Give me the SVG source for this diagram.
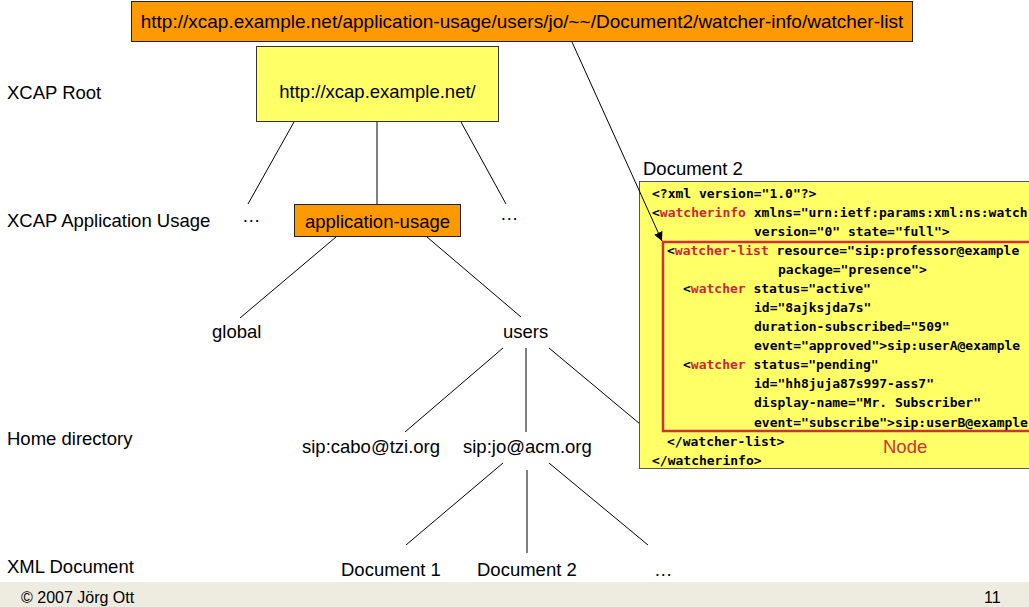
<svg xmlns="http://www.w3.org/2000/svg" width="1029" height="607" viewBox="0 0 1029 607">
<style>
.t{font-family:"Liberation Sans",Arial,sans-serif;font-size:18.5px;fill:#000}
.c{font-family:"DejaVu Sans Mono","Liberation Mono",monospace;font-size:13px;font-weight:bold;fill:#000}
.r{fill:#D21F3C}
.ln{stroke:#000;stroke-width:1;fill:none}
.orange{fill:#FF9900;stroke:#222;stroke-width:1}
.yellow{fill:#FFFF66;stroke:#333;stroke-width:1}
</style>
<defs>
<marker id="ah" viewBox="0 0 10 10" refX="10" refY="5" markerWidth="9" markerHeight="9" orient="auto" markerUnits="userSpaceOnUse">
<path d="M0,0 L10,5 L0,10 z" fill="#000"/>
</marker>
</defs>
<rect width="1029" height="607" fill="#fff"/>
<rect x="0" y="582" width="1029" height="25" fill="#EEEBE0"/>
<text class="t" x="21" y="603" style="font-size:16px">© 2007 Jörg Ott</text>
<text class="t" x="984" y="603" style="font-size:16px">11</text>

<g id="row-labels">
<text class="t" x="7" y="99">XCAP Root</text>
<text class="t" x="7" y="227">XCAP Application Usage</text>
<text class="t" x="7" y="445">Home directory</text>
<text class="t" x="7" y="573">XML Document</text>
</g>

<g id="connectors">
<line class="ln" x1="294" y1="122" x2="248" y2="204"/>
<line class="ln" x1="377" y1="122" x2="377" y2="204"/>
<line class="ln" x1="461" y1="122" x2="506" y2="204"/>
<line class="ln" x1="336" y1="237" x2="240" y2="318"/>
<line class="ln" x1="427" y1="237" x2="521" y2="317"/>
<line class="ln" x1="503" y1="348" x2="405" y2="432"/>
<line class="ln" x1="526" y1="348" x2="526" y2="432"/>
<line class="ln" x1="549" y1="348" x2="640" y2="424"/>
<line class="ln" x1="503" y1="463" x2="406" y2="545"/>
<line class="ln" x1="527" y1="470" x2="527" y2="553"/>
<line class="ln" x1="549" y1="463" x2="648" y2="545"/>
</g>

<g id="uri-bar">
<rect class="orange" x="131.5" y="1.5" width="781" height="40"/>
<text class="t" x="522" y="28" text-anchor="middle" style="font-size:19px">http://xcap.example.net/application-usage/users/jo/~~/Document2/watcher-info/watcher-list</text>
</g>

<g id="xcap-root">
<rect class="yellow" x="256.5" y="46.5" width="242" height="75"/>
<text class="t" x="377.5" y="98" text-anchor="middle">http://xcap.example.net/</text>
</g>

<g id="dots-left"><text class="t" x="242" y="222">…</text></g>
<g id="dots-right"><text class="t" x="500" y="220">…</text></g>

<g id="application-usage">
<rect class="orange" x="294.5" y="204.5" width="166" height="32"/>
<text class="t" x="377.5" y="228" text-anchor="middle">application-usage</text>
</g>

<g id="global"><text class="t" x="212" y="338">global</text></g>
<g id="users"><text class="t" x="503" y="338">users</text></g>
<g id="cabo"><text class="t" x="302" y="453">sip:cabo@tzi.org</text></g>
<g id="jo"><text class="t" x="463" y="453">sip:jo@acm.org</text></g>
<g id="doc1"><text class="t" x="341" y="576">Document 1</text></g>
<g id="doc2"><text class="t" x="477" y="576">Document 2</text></g>
<g id="dots-doc"><text class="t" x="654" y="576">…</text></g>

<g id="document2">
<text class="t" x="643" y="175">Document 2</text>
<rect class="yellow" x="639.5" y="181.5" width="400" height="287" style="stroke:#555"/>
<rect x="663" y="242" width="380" height="189" fill="none" stroke="#D0303C" stroke-width="2.5"/>
<text class="c" x="652" y="198">&lt;?xml version="1.0"?&gt;</text>
<text class="c" x="652" y="217">&lt;<tspan class="r">watcherinfo</tspan> xmlns="urn:ietf:params:xml:ns:watch</text>
<text class="c" x="754" y="236">version="0" state="full"&gt;</text>
<text class="c" x="667" y="255">&lt;<tspan class="r">watcher-list</tspan> resource="sip:professor@example</text>
<text class="c" x="778" y="274">package="presence"&gt;</text>
<text class="c" x="683" y="293">&lt;<tspan class="r">watcher</tspan> status="active"</text>
<text class="c" x="754" y="312">id="8ajksjda7s"</text>
<text class="c" x="754" y="331">duration-subscribed="509"</text>
<text class="c" x="754" y="350">event="approved"&gt;sip:userA@example</text>
<text class="c" x="683" y="369">&lt;<tspan class="r">watcher</tspan> status="pending"</text>
<text class="c" x="754" y="388">id="hh8juja87s997-ass7"</text>
<text class="c" x="754" y="407">display-name="Mr. Subscriber"</text>
<text class="c" x="754" y="427">event="subscribe"&gt;sip:userB@example</text>
<text class="c" x="667" y="446">&lt;/watcher-list&gt;</text>
<text class="c" x="652" y="465">&lt;/watcherinfo&gt;</text>
<text class="t" x="883" y="453" style="fill:#D0303C">Node</text>
</g>

<g id="arrow">
<line class="ln" x1="572" y1="42" x2="662" y2="241" marker-end="url(#ah)"/>
</g>
</svg>
